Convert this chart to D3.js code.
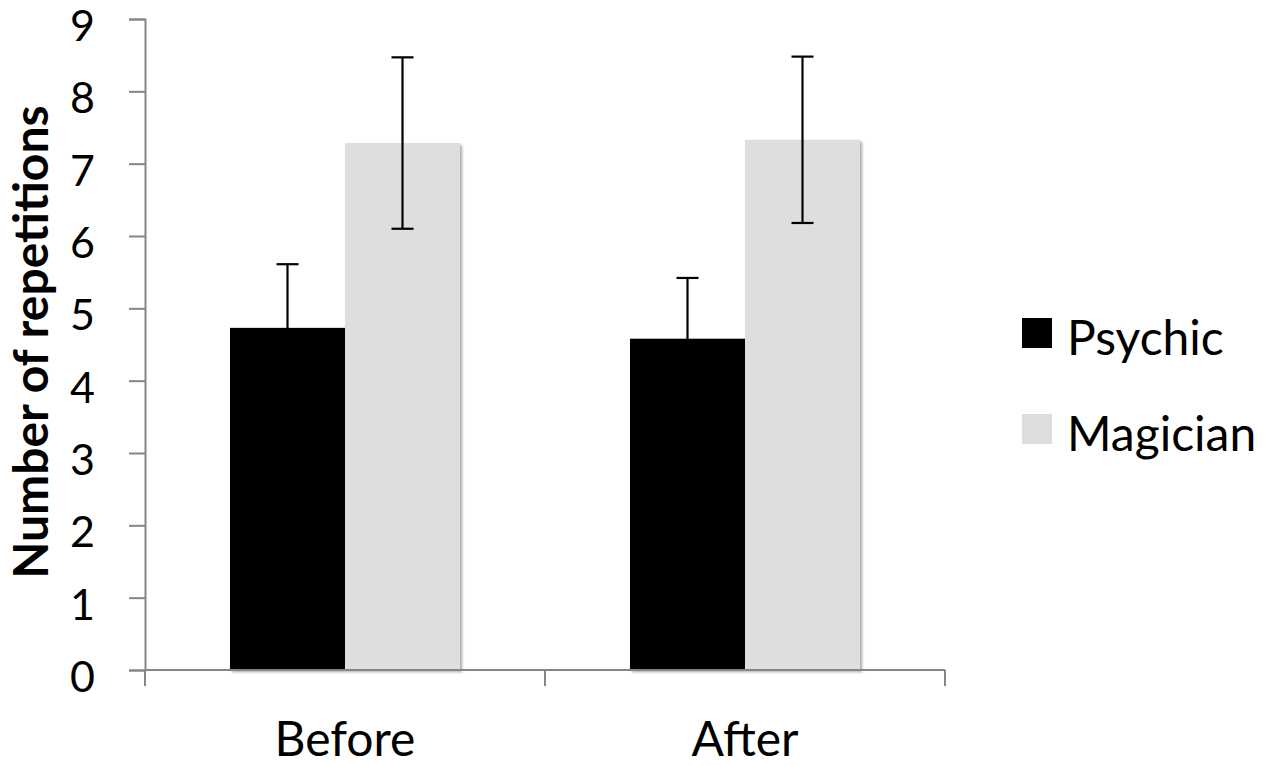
<!DOCTYPE html>
<html>
<head>
<meta charset="utf-8">
<title>Number of repetitions</title>
<script src="https://cdn.jsdelivr.net/npm/d3@7"></script>
<style>
body {
	margin: 0;
	background: #fff;
}
text {
	font-family: Lato, "Open Sans", sans-serif;
	fill: #000;
}
</style>
</head>
<body>
<div id="chart"></div>
<script type="text/javascript">
	var categories = ["Before", "After"];
	var seriesNames = ["Psychic", "Magician"];
	var psychicMeans = [4.73, 4.58];
	var psychicErrors = [0.88, 0.84];
	var magicianMeans = [7.285, 7.33];
	var magicianErrors = [1.185, 1.15];
	var yTicks = [0, 1, 2, 3, 4, 5, 6, 7, 8, 9];
	var colors = ["#000000", "#dedede"];

	var width = 1266, height = 766;

	var svg = d3.select("#chart").append("svg")
		.attr("width", width).attr("height", height);

	// drop shadow like the office bars
	var defs = svg.append("defs");
	var f = defs.append("filter").attr("id", "shadow")
		.attr("x", "-10%").attr("y", "-10%").attr("width", "130%").attr("height", "130%");
	f.append("feGaussianBlur").attr("in", "SourceAlpha").attr("stdDeviation", 1.5);
	f.append("feOffset").attr("dx", 2).attr("dy", 2).attr("result", "b");
	f.append("feComponentTransfer").append("feFuncA").attr("type", "linear").attr("slope", 0.35);
	var m = f.append("feMerge");
	m.append("feMergeNode");
	m.append("feMergeNode").attr("in", "SourceGraphic");

	var x = d3.scaleBand().domain(categories).range([145, 945])
		.paddingInner(0.425).paddingOuter(0.2125);
	var xs = d3.scaleBand().domain(seriesNames).range([0, x.bandwidth()]);
	var y = d3.scaleLinear().domain([0, 9]).range([670, 19]);

	var data = [];
	categories.forEach(function(c, i) {
		data.push({cat: c, s: "Psychic", v: psychicMeans[i], e: psychicErrors[i]});
		data.push({cat: c, s: "Magician", v: magicianMeans[i], e: magicianErrors[i]});
	});

	// y axis
	var yAxis = svg.append("g").attr("transform", "translate(145,0)")
		.call(d3.axisLeft(y).tickValues(yTicks).tickSize(16).tickPadding(34).tickFormat(d3.format("d")));
	yAxis.select(".domain").attr("stroke", "#868686").attr("stroke-width", 2);
	yAxis.selectAll(".tick line").attr("stroke", "#868686").attr("stroke-width", 2);
	yAxis.selectAll(".tick text").style("font-size", "43px").attr("fill", "#000").attr("dy", "0.5em");

	// bars
	svg.append("g").selectAll("rect").data(data).enter().append("rect")
		.attr("x", function(d) { return x(d.cat) + xs(d.s); })
		.attr("y", function(d) { return y(d.v); })
		.attr("width", xs.bandwidth())
		.attr("height", function(d) { return y(0) - y(d.v); })
		.attr("fill", function(d) { return colors[seriesNames.indexOf(d.s)]; })
		.attr("filter", "url(#shadow)");

	// x axis with ticks at category boundaries
	var half = x.step() * x.paddingInner() / 2;
	var bounds = categories.map(function(c) { return x(c) - half; });
	bounds.push(x(categories[categories.length - 1]) + x.bandwidth() + half);
	var xg = svg.append("g");
	xg.append("line").attr("x1", bounds[0]).attr("x2", bounds[bounds.length - 1])
		.attr("y1", y(0)).attr("y2", y(0)).attr("stroke", "#868686").attr("stroke-width", 2);
	xg.selectAll(".bt").data(bounds).enter().append("line")
		.attr("x1", function(d) { return d; }).attr("x2", function(d) { return d; })
		.attr("y1", y(0)).attr("y2", y(0) + 16)
		.attr("stroke", "#868686").attr("stroke-width", 2);
	xg.selectAll(".lbl").data(categories).enter().append("text")
		.attr("x", function(d) { return x(d) + x.bandwidth() / 2; })
		.attr("y", 756)
		.attr("text-anchor", "middle")
		.style("font-size", "48px")
		.text(function(d) { return d; });

	// error bars
	var eb = svg.append("g").attr("stroke", "#000").attr("stroke-width", 2.2);
	data.forEach(function(d) {
		var cx = x(d.cat) + xs(d.s) + xs.bandwidth() / 2;
		eb.append("line").attr("x1", cx).attr("x2", cx)
			.attr("y1", y(d.v + d.e)).attr("y2", y(d.v - d.e));
		eb.append("line").attr("x1", cx - 11).attr("x2", cx + 11)
			.attr("y1", y(d.v + d.e)).attr("y2", y(d.v + d.e));
		eb.append("line").attr("x1", cx - 11).attr("x2", cx + 11)
			.attr("y1", y(d.v - d.e)).attr("y2", y(d.v - d.e));
	});

	// y title
	svg.append("text")
		.attr("transform", "translate(48,342) rotate(-90)")
		.attr("text-anchor", "middle")
		.style("font-size", "48px").style("font-weight", "bold")
		.text("Number of repetitions");

	// legend
	var lg = svg.append("g").attr("transform", "translate(1022,318)");
	var item = lg.selectAll("g").data(seriesNames).enter().append("g")
		.attr("transform", function(d, i) { return "translate(0," + (i * 96) + ")"; });
	item.append("rect").attr("width", 30).attr("height", 30)
		.attr("fill", function(d, i) { return colors[i]; });
	item.append("text").attr("x", 45).attr("y", 37)
		.style("font-size", "48px")
		.text(function(d) { return d; });
</script>
</body>
</html>
